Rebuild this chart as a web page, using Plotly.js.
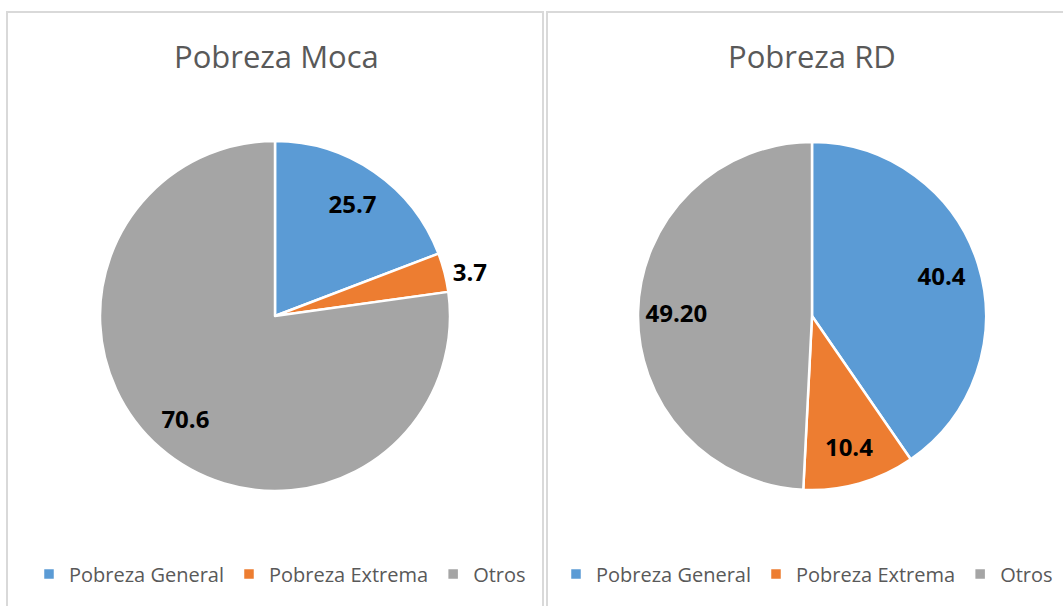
<!DOCTYPE html>
<html>
<head>
<meta charset="utf-8">
<script src="https://cdn.plot.ly/plotly-3.0.1.min.js"></script>
<style>html,body{margin:0;padding:0;background:#fff;}#chart{width:1063px;height:606px;}</style>
</head>
<body>
<div id="chart"></div>
<script>
const categories = ['Pobreza General', 'Pobreza Extrema', 'Otros'];
// slice sizes as drawn in the picture (angles), and the label texts shown
const mocaValues = [19.2, 3.6, 77.2];
const mocaLabels = ['25.7', '3.7', '70.6'];
const rdValues = [40.4, 10.4, 49.20];
const rdLabels = ['40.4', '10.4', '49.20'];
const titles = ['Pobreza Moca', 'Pobreza RD'];
const colors = ['#5B9BD5', '#ED7D31', '#A5A5A5'];

const W = 1063, H = 606;
const px = x => x / W;
const py = y => 1 - y / H;
const FONT = 'Open Sans, Liberation Sans, sans-serif';

const domL = {x: [px(100), px(450)], y: [py(491), py(141)]};
const domR = {x: [px(638), px(986)], y: [py(491), py(141)]};

const base = {
  type: 'pie',
  labels: categories,
  sort: false,
  direction: 'clockwise',
  rotation: 0,
  automargin: false
};

function slices(values, dom, legend, group, name) {
  return Object.assign({}, base, {
    values: values, name: name, domain: dom, legend: legend, legendgroup: group,
    textinfo: 'none', hoverinfo: 'label+value',
    marker: {colors: colors, line: {color: '#ffffff', width: 2.5}}
  });
}
function labelsTrace(values, text, dom, legend, group, positions) {
  return Object.assign({}, base, {
    values: values, text: text, domain: dom, legend: legend, legendgroup: group,
    hole: 0.56, showlegend: false, hoverinfo: 'skip',
    textinfo: 'text', textposition: positions,
    insidetextorientation: 'horizontal',
    textfont: {family: FONT, size: 24, color: '#000000', weight: 'bold'},
    marker: {colors: ['rgba(0,0,0,0)', 'rgba(0,0,0,0)', 'rgba(0,0,0,0)'], line: {width: 0}}
  });
}

const traces = [
  slices(mocaValues, domL, 'legend', 'moca', titles[0]),
  slices(rdValues, domR, 'legend2', 'rd', titles[1]),
  labelsTrace(mocaValues, mocaLabels, domL, 'legend', 'moca', ['inside', 'outside', 'inside']),
  labelsTrace(rdValues, rdLabels, domR, 'legend2', 'rd', ['inside', 'inside', 'inside'])
];

const legendBase = {
  orientation: 'h',
  traceorder: 'normal',
  yanchor: 'middle',
  y: py(574),
  font: {family: FONT, size: 20, color: '#595959'},
  bgcolor: 'rgba(0,0,0,0)',
  itemwidth: 30,
  tracegroupgap: 0
};

const layout = {
  width: W, height: H,
  margin: {l: 0, r: 0, t: 0, b: 0},
  paper_bgcolor: '#ffffff',
  showlegend: true,
  legend: Object.assign({}, legendBase, {x: px(280), xanchor: 'center'}),
  legend2: Object.assign({}, legendBase, {x: px(1058), xanchor: 'right'}),
  shapes: [
    {type: 'rect', xref: 'paper', yref: 'paper', x0: px(7), x1: px(543), y0: py(640), y1: py(12), line: {color: '#D9D9D9', width: 2}, fillcolor: 'rgba(0,0,0,0)'},
    {type: 'rect', xref: 'paper', yref: 'paper', x0: px(547), x1: px(1080), y0: py(640), y1: py(12), line: {color: '#D9D9D9', width: 2}, fillcolor: 'rgba(0,0,0,0)'}
  ],
  annotations: [
    {text: titles[0], xref: 'paper', yref: 'paper', x: px(276), y: py(56), xanchor: 'center', yanchor: 'middle', showarrow: false, font: {family: FONT, size: 31, color: '#595959'}},
    {text: titles[1], xref: 'paper', yref: 'paper', x: px(812), y: py(56), xanchor: 'center', yanchor: 'middle', showarrow: false, font: {family: FONT, size: 31, color: '#595959'}}
  ]
};

Plotly.newPlot('chart', traces, layout, {displayModeBar: false, responsive: false});
</script>
</body>
</html>
